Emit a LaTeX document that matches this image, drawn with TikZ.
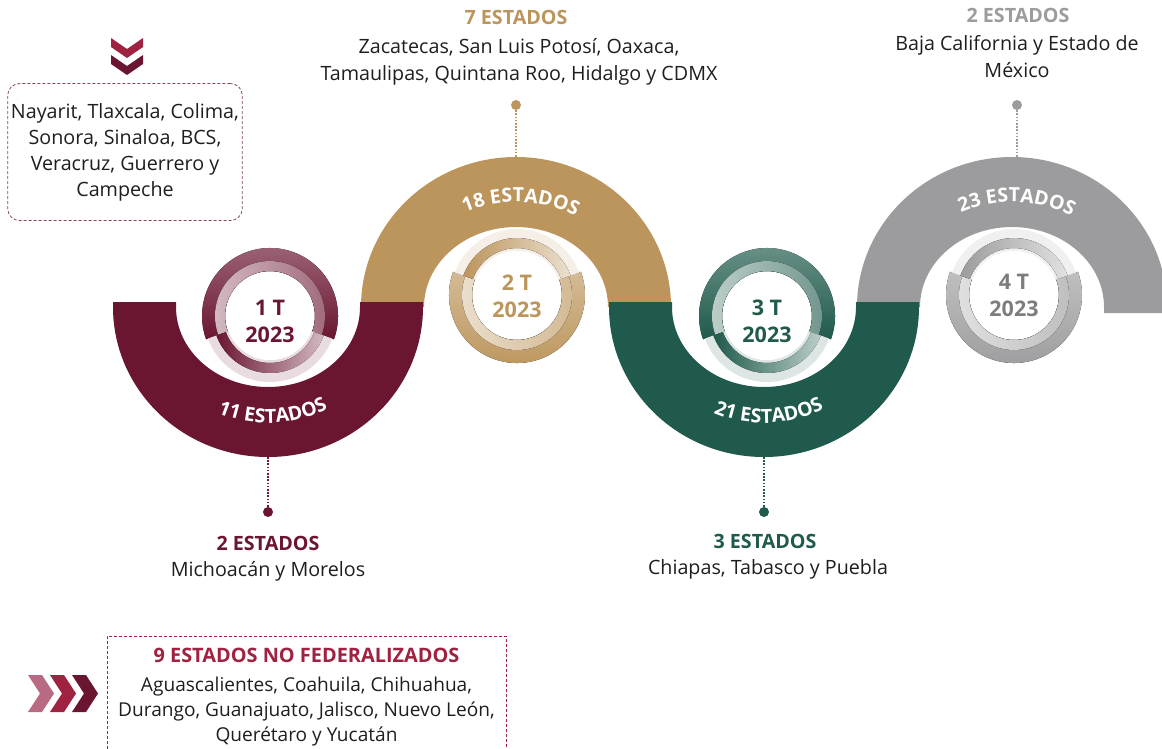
\documentclass[tikz,border=0pt]{standalone}
\usepackage{fontspec}
\setmainfont{Open Sans}
\usepackage{tikz}
\usetikzlibrary{shapes,arrows,positioning,decorations.text}

\definecolor{guinda}{HTML}{6B1631}
\definecolor{rojo}{HTML}{9F2241}
\definecolor{rosa}{HTML}{B86A82}
\definecolor{oro}{HTML}{BC955C}
\definecolor{verde}{HTML}{1F5A4C}
\definecolor{gris}{HTML}{9C9C9E}
\definecolor{grisosc}{HTML}{7D7D80}
\definecolor{tinta}{HTML}{1E1E1E}

% anillo del trimestre: x, y, color, angulo inicial y final de la parte oscura
\newcommand{\anillo}[5]{%
	\begin{scope}[shift={(#1,#2)}]
		\fill[top color=#3!65, bottom color=#3] (#4:68) arc[start angle=#4, end angle=#5, radius=68] -- (#5:45) arc[start angle=#5, end angle=#4, radius=45] -- cycle;
		\fill[left color=#3!30, right color=#3!65] (#4:55) arc[start angle=#4, end angle=#5, radius=55] -- (#5:45) arc[start angle=#5, end angle=#4, radius=45] -- cycle;
		\fill[#3!15] (#5:66) arc[start angle=#5, end angle=#4+360, radius=66] -- (#4+360:44) arc[start angle=#4+360, end angle=#5, radius=44] -- cycle;
		\fill[left color=#3, right color=#3!30] (#5:57) arc[start angle=#5, end angle=#4+360, radius=57] -- (#4+360:47) arc[start angle=#4+360, end angle=#5, radius=47] -- cycle;
		\fill[white] (0,0) circle[radius=44];
	\end{scope}}

\begin{document}
\begin{tikzpicture}[x=1pt, y=1pt,
	texto/.style={font=\fontsize{19.7}{27}\selectfont, text=tinta, align=center},
	titulo/.style={font=\fontsize{19.7}{27}\selectfont\bfseries},
	trim/.style={font=\fontsize{21.5}{27}\selectfont\bfseries, align=center},
	punto/.style={circle, inner sep=0pt, minimum size=10pt},
	linea/.style={line width=2pt, dash pattern=on 1.5pt off 1.7pt},
	caja/.style={dash pattern=on 3pt off 2pt, line width=0.8pt}]

	\useasboundingbox (0,0) rectangle (1162,-748);
	\clip (0,0) rectangle (1162,-748);

	% arcos
	\fill[oro] (361,-307) arc[start angle=180, end angle=0, x radius=155, y radius=150] -- (608,-307) arc[start angle=0, end angle=180, x radius=92, y radius=80] -- cycle;
	\fill[gris] (857,-307) arc[start angle=180, end angle=0, x radius=155, y radius=150] -- (1167,-313) -- (1104,-313) -- (1104,-307) arc[start angle=0, end angle=180, x radius=92, y radius=80] -- cycle;
	\fill[guinda] (113,-302) -- (113,-307) arc[start angle=180, end angle=360, x radius=155, y radius=150] -- (423,-302) -- (360,-302) -- (360,-307) arc[start angle=0, end angle=-180, x radius=92, y radius=80] -- (176,-302) -- cycle;
	\fill[verde] (609,-302) -- (609,-307) arc[start angle=180, end angle=360, x radius=155, y radius=150] -- (919,-302) -- (856,-302) -- (856,-307) arc[start angle=0, end angle=-180, x radius=92, y radius=80] -- (672,-302) -- cycle;

	\path[decorate, decoration={text along path, text align=center, text color=white, text={|\fontsize{19.5}{19.5}\selectfont\bfseries|11 ESTADOS}}] (268,-307) ++(227.5:124 and 116) arc[start angle=227.5, end angle=317.5, x radius=124, y radius=116];
	\path[decorate, decoration={text along path, text align=center, text color=white, text={|\fontsize{19.5}{19.5}\selectfont\bfseries|18 ESTADOS}}] (516,-307) ++(147.5:118 and 105) arc[start angle=147.5, end angle=27.5, x radius=118, y radius=105];
	\path[decorate, decoration={text along path, text align=center, text color=white, text={|\fontsize{19.5}{19.5}\selectfont\bfseries|21 ESTADOS}}] (764,-307) ++(227.5:124 and 116) arc[start angle=227.5, end angle=317.5, x radius=124, y radius=116];
	\path[decorate, decoration={text along path, text align=center, text color=white, text={|\fontsize{19.5}{19.5}\selectfont\bfseries|23 ESTADOS}}] (1012,-307) ++(147.5:118 and 105) arc[start angle=147.5, end angle=27.5, x radius=118, y radius=105];

	% trimestres
	\anillo{270}{-316}{guinda}{-20}{200}
	\anillo{517}{-295}{oro}{160}{380}
	\anillo{767}{-316}{verde}{-20}{200}
	\anillo{1014}{-295}{gris}{160}{380}
	\node[trim, text=guinda] (q1) at (270,-321.5) {1 T\\2023};
	\node[trim, text=oro] (q2) at (517,-296.5) {2 T\\2023};
	\node[trim, text=verde] (q3) at (767,-321.5) {3 T\\2023};
	\node[trim, text=grisosc] (q4) at (1014,-295.5) {4 T\\2023};

	% puntos y lineas
	\node[punto, fill=guinda] (p1) at (268,-512) {};
	\node[punto, fill=oro] (p2) at (516,-105) {};
	\node[punto, fill=verde] (p3) at (764,-512) {};
	\node[punto, fill=gris] (p4) at (1017,-105) {};
	\coordinate (a1) at (268,-457);
	\coordinate (a2) at (516,-157);
	\coordinate (a3) at (764,-457);
	\coordinate (a4) at (1017,-158);
	\draw[linea, guinda] (a1) -- (p1);
	\draw[linea, oro] (p2) -- (a2);
	\draw[linea, verde] (a3) -- (p3);
	\draw[linea, gris] (p4) -- (a4);

	% estados
	\node[titulo, text=oro, anchor=base] (e2) at (516,-24) {7 ESTADOS};
	\node[texto, anchor=base] (l2) at (519,-80) {Zacatecas, San Luis Potosí, Oaxaca,\\Tamaulipas, Quintana Roo, Hidalgo y CDMX};
	\node[titulo, text=gris, anchor=base] (e4) at (1018,-22) {2 ESTADOS};
	\node[texto, anchor=base] (l4) at (1017,-77) {Baja California y Estado de\\México};
	\node[titulo, text=guinda, anchor=base] (e1) at (268,-550) {2 ESTADOS};
	\node[texto, anchor=base] (l1) at (268,-576) {Michoacán y Morelos};
	\node[titulo, text=verde, anchor=base] (e3) at (765,-548) {3 ESTADOS};
	\node[texto, anchor=base] (l3) at (768,-574) {Chiapas, Tabasco y Puebla};

	% cajas
	\fill[rojo] (111,-38) -- (127,-49) -- (143,-38) -- (143,-47) -- (127,-58) -- (111,-47) -- cycle;
	\fill[guinda] (111,-55) -- (127,-66) -- (143,-55) -- (143,-64) -- (127,-75) -- (111,-64) -- cycle;
	\node[texto, caja, draw=guinda!80, rounded corners=12pt, minimum width=234pt, minimum height=137pt, font=\fontsize{19.7}{26}\selectfont] (c1) at (125,-152) {Nayarit, Tlaxcala, Colima,\\Sonora, Sinaloa, BCS,\\Veracruz, Guerrero y\\Campeche};

	\fill[rosa] (28,-675) -- (42,-675) -- (54,-693.5) -- (42,-712) -- (28,-712) -- (40,-693.5) -- cycle;
	\fill[rojo] (50,-675) -- (64,-675) -- (76,-693.5) -- (64,-712) -- (50,-712) -- (62,-693.5) -- cycle;
	\fill[guinda] (72,-675) -- (86,-675) -- (98,-693.5) -- (86,-712) -- (72,-712) -- (84,-693.5) -- cycle;
	\node[texto, caja, draw=rojo, font=\fontsize{19.1}{25}\selectfont, anchor=north, inner ysep=12pt, minimum width=399pt] (c2) at (306.5,-636) {\textcolor{rojo}{\fontsize{19.9}{25}\selectfont\bfseries 9 ESTADOS NO FEDERALIZADOS}\\[4pt]Aguascalientes, Coahuila, Chihuahua,\\Durango, Guanajuato, Jalisco, Nuevo León,\\Querétaro y Yucatán};
\end{tikzpicture}
\end{document}
